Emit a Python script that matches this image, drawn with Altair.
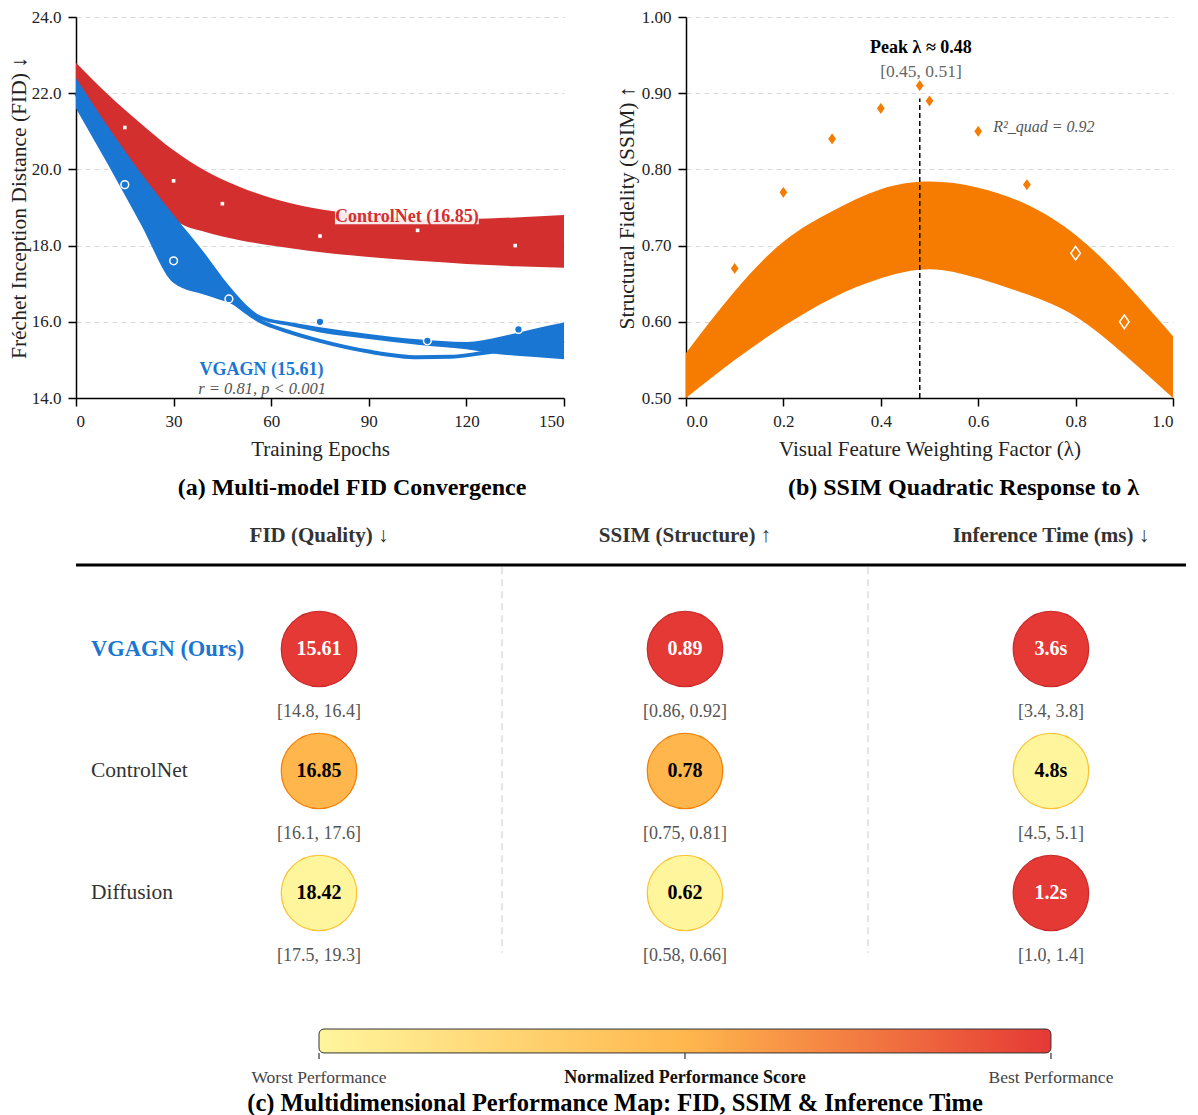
import altair as alt
import pandas as pd

FONT = "Liberation Serif"
RED = "#D32F2F"
BLUE = "#1976D2"
ORANGE = "#F57C00"

# ---------------- (a) FID convergence data ----------------
cn_band_x = [0, 10, 20, 30, 40, 50, 60, 72, 90, 105, 120, 135, 150]
cn_band_hi = [22.8, 21.95, 21.2, 20.5, 19.95, 19.55, 19.25, 19.0, 18.8, 18.7, 18.7, 18.74, 18.8]
cn_band_lo = [22.3, 21.0, 19.8, 18.7, 18.35, 18.15, 18.0, 17.86, 17.7, 17.6, 17.52, 17.46, 17.42]

vg_band_x = [0, 10, 20, 30, 40, 47, 57, 65, 75, 90, 105, 120, 130, 140, 150]
vg_band_hi = [22.4, 21.1, 19.9, 18.8, 17.75, 16.95, 16.15, 16.0, 15.86, 15.68, 15.54, 15.47, 15.6, 15.8, 15.98]
vg_band_lo = [21.6, 20.1, 18.55, 17.02, 16.7, 16.5, 16.05, 15.9, 15.72, 15.55, 15.4, 15.28, 15.15, 15.08, 15.02]

vg_fit_x = [0, 15, 30, 45, 57, 65, 75, 90, 105, 115, 125, 135, 150]
vg_fit_y = [22.0, 19.85, 17.9, 16.75, 16.0, 15.75, 15.5, 15.22, 15.07, 15.08, 15.18, 15.3, 15.5]

cn_pts_x = [15, 30, 45, 75, 105, 135]
cn_pts_y = [21.1, 19.7, 19.1, 18.25, 18.4, 18.0]
vg_pts_x = [15, 30, 47, 75, 108, 136]
vg_pts_y = [19.6, 17.6, 16.6, 16.0, 15.5, 15.8]

corr_text = "r = 0.81, p < 0.001"

# ---------------- (b) SSIM vs lambda data ----------------
lam_band_x = [0.0, 0.1, 0.2, 0.3, 0.4, 0.5, 0.6, 0.7, 0.8, 0.9, 1.0]
ssim_band_hi = [0.559, 0.640, 0.705, 0.745, 0.774, 0.784, 0.776, 0.754, 0.714, 0.653, 0.581]
ssim_band_lo = [0.500, 0.550, 0.594, 0.631, 0.657, 0.669, 0.657, 0.636, 0.607, 0.557, 0.500]
lam_pts = [0.1, 0.2, 0.3, 0.4, 0.48, 0.5, 0.6, 0.7, 0.8, 0.9]
ssim_pts = [0.67, 0.77, 0.84, 0.88, 0.91, 0.89, 0.85, 0.78, 0.69, 0.60]
peak_lambda = 0.48
peak_top = 0.893
peak_ci = "[0.45, 0.51]"
r2_text = "R²_quad = 0.92"

# ---------------- (c) performance map data ----------------
models = ["VGAGN (Ours)", "ControlNet", "Diffusion"]
metrics = ["FID (Quality) ↓", "SSIM (Structure) ↑", "Inference Time (ms) ↓"]
fid_vals = ["15.61", "16.85", "18.42"]
ssim_vals = ["0.89", "0.78", "0.62"]
time_vals = ["3.6s", "4.8s", "1.2s"]
fid_ci = ["[14.8, 16.4]", "[16.1, 17.6]", "[17.5, 19.3]"]
ssim_ci = ["[0.86, 0.92]", "[0.75, 0.81]", "[0.58, 0.66]"]
time_ci = ["[3.4, 3.8]", "[4.5, 5.1]", "[1.0, 1.4]"]
fid_score = [1.0, 0.5, 0.0]
ssim_score = [1.0, 0.5, 0.0]
time_score = [1.0, 0.0, 1.0]
scale_labels = ["Worst Performance", "Normalized Performance Score", "Best Performance"]
scale_colors = ["#FFF59D", "#FFB74D", "#E53935"]
scale_strokes = ["#FBC02D", "#F57C00", "#C62828"]

# ================= Panel (a) =================
XA = alt.Scale(domain=[0, 150], nice=False, zero=False)
YA = alt.Scale(domain=[14, 24], nice=False, zero=False)
AX_XA = alt.Axis(values=[0, 30, 60, 90, 120, 150], title="Training Epochs", format="d")
AX_YA = alt.Axis(values=[14, 16, 18, 20, 22, 24], format=".1f",
                 title="Fréchet Inception Distance (FID) ↓", titlePadding=0.5, titleFontSize=21.5)


def xa(f="x"):
    return alt.X(f"{f}:Q", scale=XA, axis=AX_XA)


def ya(f="y"):
    return alt.Y(f"{f}:Q", scale=YA, axis=AX_YA)


cn_band = alt.Chart(pd.DataFrame({"x": cn_band_x, "lo": cn_band_lo, "hi": cn_band_hi})).mark_area(
    color=RED, interpolate="monotone", opacity=1).encode(x=xa(), y=ya("lo"), y2="hi:Q")
vg_band = alt.Chart(pd.DataFrame({"x": vg_band_x, "lo": vg_band_lo, "hi": vg_band_hi})).mark_area(
    color=BLUE, interpolate="monotone", opacity=1).encode(x=xa(), y=ya("lo"), y2="hi:Q")
vg_fit = alt.Chart(pd.DataFrame({"x": vg_fit_x, "y": vg_fit_y})).mark_line(
    color=BLUE, strokeWidth=4, interpolate="monotone").encode(x=xa(), y=ya())
cn_pts = alt.Chart(pd.DataFrame({"x": cn_pts_x, "y": cn_pts_y})).mark_point(
    shape="square", filled=True, fill="white", strokeWidth=0, size=13, opacity=1
).encode(x=xa(), y=ya())
vg_pts = alt.Chart(pd.DataFrame({"x": vg_pts_x, "y": vg_pts_y})).mark_point(
    shape="circle", filled=True, fill=BLUE, stroke="white", strokeWidth=1.5, size=60, opacity=1
).encode(x=xa(), y=ya())


def text_a(txt, x, y, **kw):
    return alt.Chart(pd.DataFrame({"t": [txt], "x": [x], "y": [y]})).mark_text(**kw).encode(
        x=xa(), y=ya(), text="t:N")


cn_label_txt = f"ControlNet ({fid_vals[1]})"
vg_label_txt = f"VGAGN ({fid_vals[0]})"
# white label box behind the ControlNet annotation
cn_box = alt.Chart(pd.DataFrame({"x": [79.6], "x2": [123.8], "y": [18.56], "y2": [18.97]})).mark_rect(
    color="white", opacity=0.9).encode(x=xa(), x2="x2:Q", y=ya(), y2="y2:Q")
cn_label = text_a(cn_label_txt, 101.7, 18.75, fontSize=18, fontWeight="bold", color=RED)
vg_label = text_a(vg_label_txt, 57, 14.73, fontSize=18, fontWeight="bold", color=BLUE)
corr_label = text_a(corr_text, 57.2, 14.24, fontSize=16.5, fontStyle="italic", color="#555555")

chart_a = alt.layer(cn_band, vg_band, vg_fit, cn_box, cn_label, cn_pts, vg_pts, vg_label, corr_label).properties(
    width=488, height=381,
    title=alt.TitleParams("(a) Multi-model FID Convergence", orient="bottom", fontSize=24,
                          fontWeight="bold", dx=32, offset=17, color="black"))

# ================= Panel (b) =================
XB = alt.Scale(domain=[0, 1], nice=False, zero=False)
YB = alt.Scale(domain=[0.5, 1.0], nice=False, zero=False)
AX_XB = alt.Axis(values=[0, 0.2, 0.4, 0.6, 0.8, 1.0], format=".1f", title="Visual Feature Weighting Factor (λ)")
AX_YB = alt.Axis(values=[0.5, 0.6, 0.7, 0.8, 0.9, 1.0], format=".2f",
                 title="Structural Fidelity (SSIM) ↑", titlePadding=3, titleFontSize=21.5)


def xb(f="x"):
    return alt.X(f"{f}:Q", scale=XB, axis=AX_XB)


def yb(f="y"):
    return alt.Y(f"{f}:Q", scale=YB, axis=AX_YB)


ssim_band = alt.Chart(pd.DataFrame({"x": lam_band_x, "lo": ssim_band_lo, "hi": ssim_band_hi})).mark_area(
    color=ORANGE, interpolate="natural", opacity=1).encode(x=xb(), y=yb("lo"), y2="hi:Q")
peak_rule = alt.Chart(pd.DataFrame({"x": [peak_lambda], "y": [0.5], "y2": [peak_top]})).mark_rule(
    color="black", strokeDash=[5, 3], strokeWidth=1.5).encode(x=xb(), y=yb(), y2="y2:Q")
ssim_dots = alt.Chart(pd.DataFrame({"x": lam_pts, "y": ssim_pts})).mark_point(
    shape="M0,-1L0.7,0L0,1L-0.7,0Z", filled=True, fill=ORANGE, stroke="white", strokeWidth=1.5,
    size=185, opacity=1).encode(x=xb(), y=yb())


def text_b(txt, x, y, **kw):
    return alt.Chart(pd.DataFrame({"t": [txt], "x": [x], "y": [y]})).mark_text(**kw).encode(
        x=xb(), y=yb(), text="t:N")


peak_label = text_b(f"Peak λ ≈ {peak_lambda:.2f}", 0.4825, 0.959, fontSize=18, fontWeight="bold", color="black")
peak_ci_label = text_b(peak_ci, 0.4825, 0.928, fontSize=17.5, color="#666666")
r2_label = text_b(r2_text, 0.735, 0.856, fontSize=16, fontStyle="italic", color="#555555")

chart_b = alt.layer(ssim_band, peak_rule, ssim_dots, peak_label, peak_ci_label, r2_label).properties(
    width=487, height=381,
    title=alt.TitleParams("(b) SSIM Quadratic Response to λ", orient="bottom", fontSize=24,
                          fontWeight="bold", dx=34, offset=17, color="black"))

# ================= Panel (c) =================
# x in "column units" (metric columns at 1, 2, 3), y in "row units" (model rows at 1, 2, 3)
XC = alt.Scale(domain=[0.336, 3.369], nice=False, zero=False)
YC = alt.Scale(domain=[-0.1885, 4.7623], nice=False, zero=False, reverse=True)


def cx(f=None, datum=None):
    if datum is not None:
        return alt.XDatum(datum, type="quantitative", scale=XC, axis=None)
    return alt.X(f"{f}:Q", scale=XC, axis=None)


def cy(f=None, datum=None):
    if datum is not None:
        return alt.YDatum(datum, type="quantitative", scale=YC, axis=None)
    return alt.Y(f"{f}:Q", scale=YC, axis=None)


cells = []
for j, (vals, cis, scores) in enumerate([(fid_vals, fid_ci, fid_score),
                                          (ssim_vals, ssim_ci, ssim_score),
                                          (time_vals, time_ci, time_score)]):
    for i in range(len(models)):
        cells.append({"col": j + 1, "row": i + 1, "label": vals[i], "ci": cis[i], "score": scores[i]})
cells_df = pd.DataFrame(cells)
head_df = pd.DataFrame({"col": [1, 2, 3], "name": metrics})
model_df = pd.DataFrame({"row": [1, 2, 3], "name": models, "ours": [True, False, False]})
sep_df = pd.DataFrame({"x": [1.5, 2.5]})
bar_df = pd.DataFrame({"x": [1, 2, 3], "name": scale_labels, "bold": [False, True, False]})

header_rule = alt.Chart(pd.DataFrame({"a": [0]})).mark_rule(color="black", strokeWidth=3).encode(
    x=cx(datum=0.336), x2=alt.X2Datum(3.369), y=cy(datum=0.311))
seps = alt.Chart(sep_df).mark_rule(color="#dddddd", strokeWidth=1.5, strokeDash=[7, 5]).encode(
    x=cx("x"), y=cy(datum=0.33), y2=alt.Y2Datum(3.49))
headers = alt.Chart(head_df).mark_text(fontSize=21, fontWeight="bold", color="#333333").encode(
    x=cx("col"), y=cy(datum=0.074), text="name:N")
model_ours = alt.Chart(model_df).transform_filter("datum.ours").mark_text(
    fontSize=22.5, fontWeight="bold", color=BLUE, align="left").encode(
    x=cx(datum=0.377), y=cy("row"), text="name:N")
model_other = alt.Chart(model_df).transform_filter("!datum.ours").mark_text(
    fontSize=21.5, color="#333333", align="left").encode(
    x=cx(datum=0.377), y=cy("row"), text="name:N")
circles = alt.Chart(cells_df).mark_circle(size=5700, strokeWidth=1.2, opacity=1).encode(
    x=cx("col"), y=cy("row"),
    fill=alt.Fill("score:Q", scale=alt.Scale(domain=[0, 0.5, 1], range=scale_colors), legend=None),
    stroke=alt.Stroke("score:Q", scale=alt.Scale(domain=[0, 0.5, 1], range=scale_strokes), legend=None))
values = alt.Chart(cells_df).mark_text(fontSize=20, fontWeight="bold").encode(
    x=cx("col"), y=cy("row"), text="label:N",
    color=alt.condition("datum.score > 0.75", alt.value("white"), alt.value("black")))
cis = alt.Chart(cells_df).mark_text(fontSize=18, color="#555555", dy=63).encode(
    x=cx("col"), y=cy("row"), text="ci:N")

gradient = alt.Gradient(gradient="linear",
                        stops=[alt.GradientStop(offset=0, color=scale_colors[0]),
                               alt.GradientStop(offset=0.5, color=scale_colors[1]),
                               alt.GradientStop(offset=1, color=scale_colors[2])],
                        x1=0, x2=1, y1=0, y2=0)
cbar = alt.Chart(pd.DataFrame({"a": [0]})).mark_rect(
    fill=gradient, stroke="#333333", strokeWidth=1, cornerRadius=5).encode(
    x=cx(datum=1), x2=alt.X2Datum(3), y=cy(datum=4.115), y2=alt.Y2Datum(4.311))
cbar_ticks = alt.Chart(bar_df).mark_rule(color="#333333", strokeWidth=1.2).encode(
    x=cx("x"), y=cy(datum=4.311), y2=alt.Y2Datum(4.36))
cbar_lab = alt.Chart(bar_df).transform_filter("!datum.bold").mark_text(
    fontSize=17.5, color="#444444").encode(x=cx("x"), y=cy(datum=4.516), text="name:N")
cbar_lab_b = alt.Chart(bar_df).transform_filter("datum.bold").mark_text(
    fontSize=18, fontWeight="bold", color="#111111").encode(x=cx("x"), y=cy(datum=4.516), text="name:N")
title_c = alt.Chart(pd.DataFrame({"t": ["(c) Multidimensional Performance Map: FID, SSIM & Inference Time"]})).mark_text(
    fontSize=24.5, fontWeight="bold", color="black").encode(x=cx(datum=1.809), y=cy(datum=4.73), text="t:N")

chart_c = alt.layer(header_rule, seps, headers, model_ours, model_other, circles, values, cis,
                    cbar, cbar_ticks, cbar_lab, cbar_lab_b, title_c).properties(width=1110, height=604)

row1 = alt.hconcat(chart_a, chart_b, spacing=44)
chart = alt.vconcat(row1, chart_c, spacing=4).properties(padding=0).configure(
    font=FONT).configure_view(stroke=None).configure_axis(
    labelFontSize=17, titleFontSize=21, titleFontWeight="normal", labelColor="#222222",
    titleColor="#222222", domainColor="black", domainWidth=1.5, tickColor="black", tickWidth=1.5,
    tickSize=8, labelPadding=7, gridColor="#d9d9d9", gridDash=[5, 4], gridWidth=1
).configure_axisX(grid=False, titlePadding=9).configure_axisY(grid=True)

chart.save("out.html", embed_options={"renderer": "svg", "actions": False})
